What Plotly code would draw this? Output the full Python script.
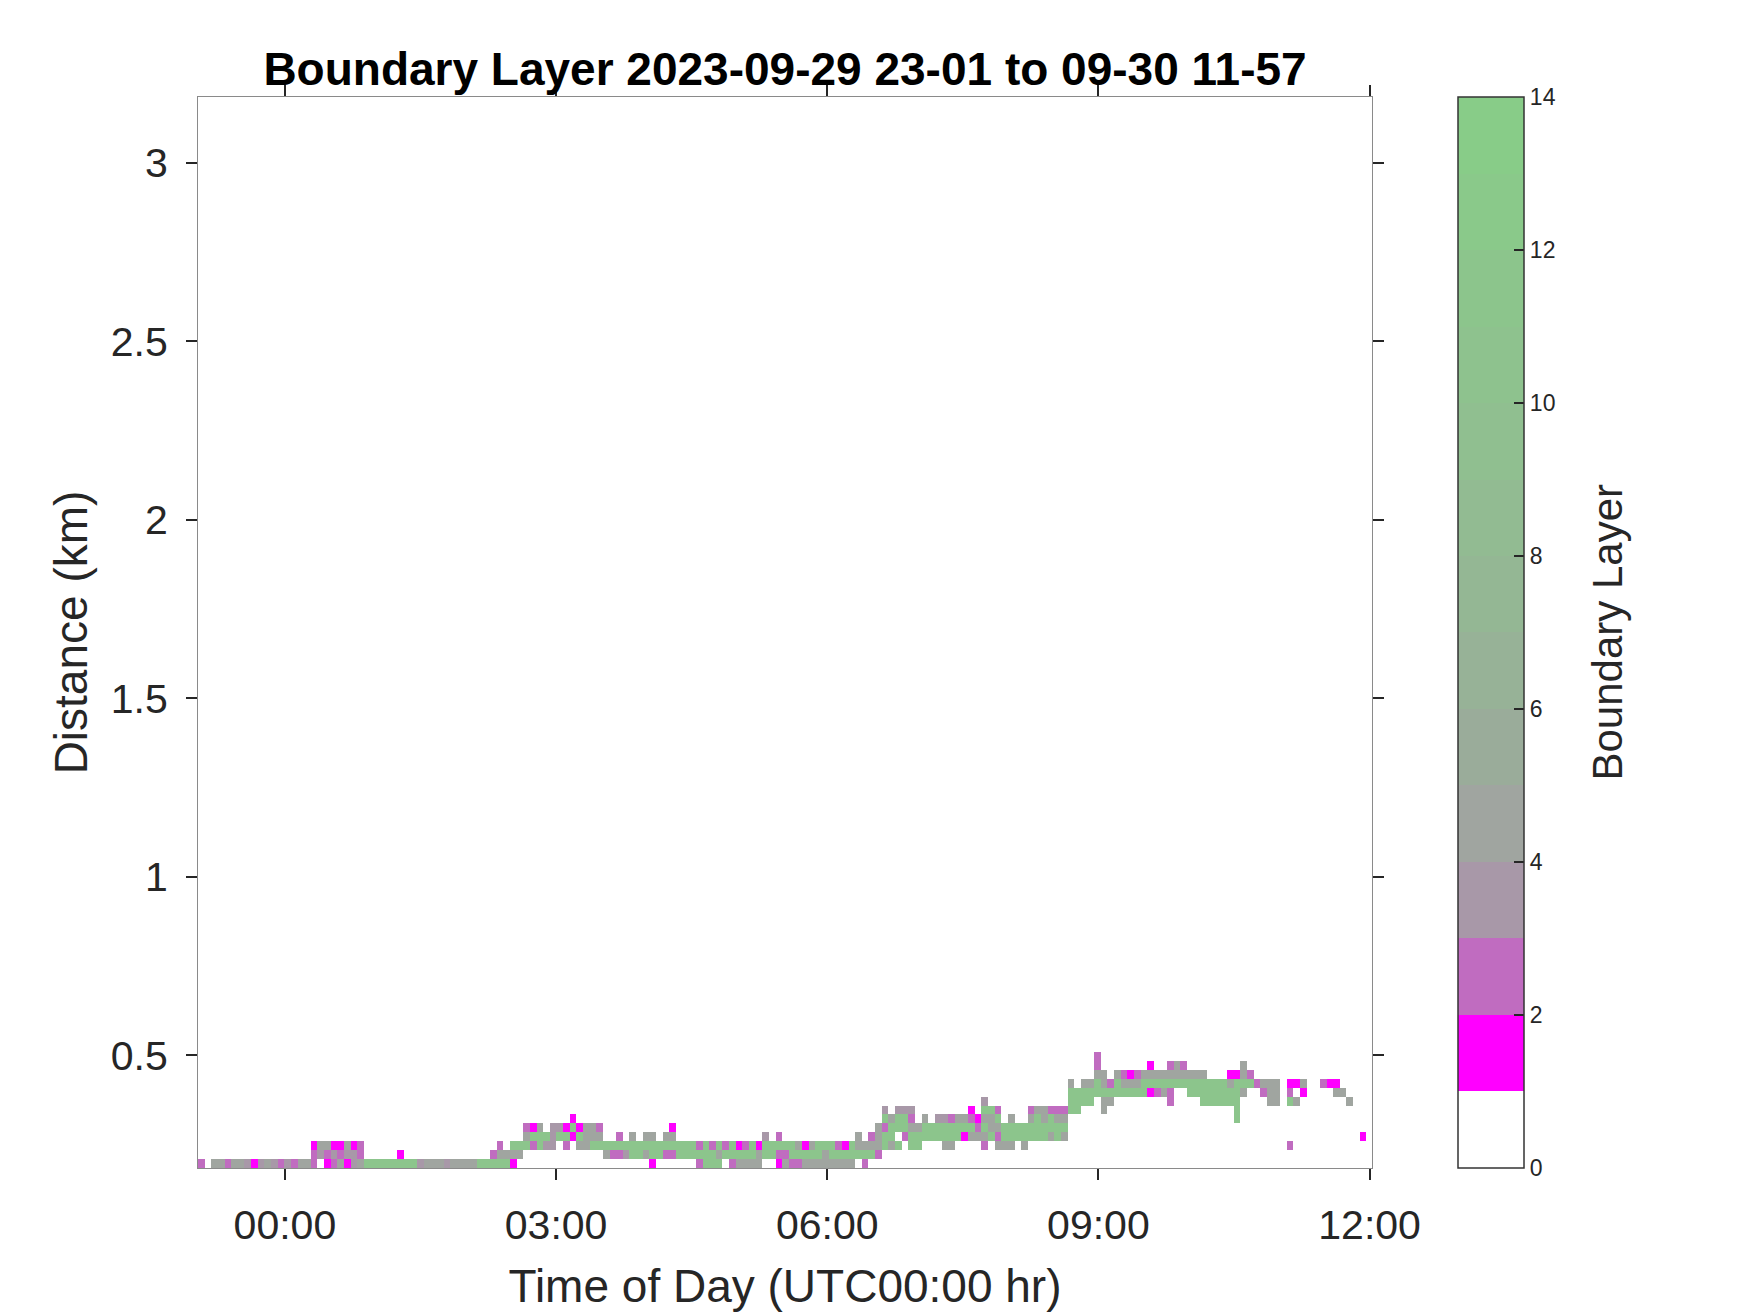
import numpy as np
import plotly.graph_objects as go
from datetime import datetime, timedelta

# ---- data ----
# value assigned to each colour class seen in the image
CLASS_VALUE = {"m": 1.5, "o": 2.5, "p": 3.5, "g": 4.5, "G": 11.5}

# one string per time column, range gates listed from the lowest upward ('.' = no value)
columns = [
    "o", "", "g", "g", "o", "g", "g", "p", "m", "p",                      # 0-9
    "g", "p", "o", "p", "o", "g", "g", "oom", ".pg", "mog",              # 10-19
    "opm", "gom", "mpg", "ppm", "goo", "G", "G", "G", "G", "G",          # 20-29
    "Gm", "G", "G", "p", "g", "g", "g", "p", "g", "g",                   # 30-39
    "g", "g", "G", "G", "Go", "Ggo", "Gg", "mgG", ".gG", "..Ggo",        # 40-49
    "..oGm", "..GGg", "..pG", "..ppp", "...Gp", "..oGm", "...mGm", "..gGm", "..ggg", "..Ggg",  # 50-59
    "..Ggo", ".gG", ".oG", ".oGo", ".pG", ".GGg", ".GG", ".gGg", "mGGg", ".GG",               # 60-69
    ".oGg", ".oGgm", ".GG", ".GG", ".GG", "oGo", "GGG", "GGo", "GgG", ".Go",                  # 70-79
    "oGG", "gGm", "gGo", "gGG", "ggm", ".GGp", ".GG", "moGo", "goG", "oGG",                   # 80-89
    "oGg", "gGm", "gGg", "gGG", "ggG", "gGG", "gGo", "gGm", "gGG", ".Ggg",                    # 90-99
    "oGg", ".Ggo", ".oggg", "..GGoGp", "..gGGg", "..G.GGp", "...oGGp", "..GGgop", "..GGg", "...GGg",  # 100-109
    "...GG", "...GGp", "..gGGp", "..gGGo", "...GGg", "...mGg", "...gGom", "...gom", "..ogGgGp", "...GggG",  # 110-119
    "..gogGo", "..gGG", "..gGGg", "...GG", "..gGG", "...GGgo", "...GGGg", "...GGgg", "...gGGo", "...GGgo",  # 120-129
    "...gGgo", "......GGGg", "......GGG", ".......GGg", ".......GGg",                         # 130-134
    "........GGgoo", "......ggGgg", ".......gGo", "........GGg", "........Ggo",                 # 135-139
    "........Ggm", "........Ggo", "........GGg", "........mGgm", "........oGg",                 # 140-144
    "........gGg", ".......ooGgo", ".........Ggg", ".........Ggo", "........GGg",               # 145-149
    "........GGg", ".......GGGg", ".......GGG", ".......GGG", ".......GGG",                    # 150-154
    ".......GGgm", ".....GGGGGm", "........gGgg", ".........Go", ".........o",                 # 155-159
    "........og", ".......ggg", ".......ggg", "", "..o....Gom",                                # 160-164
    ".......g.m", "........mg", "", "", ".........o",                                          # 165-169
    ".........m", "........gm", "........g", ".......g", "",                                   # 170-174
    "...m", "",                                                                                # 175-176
]

time_start = datetime(2023, 9, 29, 23, 2, 18)   # left edge of first column
time_step_min = 4.407                           # column width in minutes
gate_base_km = 0.184                            # bottom of lowest gate
gate_km = 0.025                                 # gate size
n_gates = 13

x_ticks = [datetime(2023, 9, 30, h) for h in (0, 3, 6, 9, 12)]
y_ticks = [0.5, 1, 1.5, 2, 2.5, 3]
y_ticktext = ["0.5", "1", "1.5", "2", "2.5", "3"]
cbar_ticks = [0, 2, 4, 6, 8, 10, 12, 14]

band_colors = ["#ffffff", "#ff00ff", "#c06cc0", "#a898a8", "#a0a5a0", "#9aac9a", "#97b297",
               "#94b794", "#92bb92", "#90bf90", "#8ec28e", "#8cc58c", "#8ac98a", "#88cc88"]

# ---- build matrix ----
ncol = len(columns)
z = np.full((n_gates, ncol), np.nan)
for i, col in enumerate(columns):
    for r, ch in enumerate(col):
        if ch in CLASS_VALUE:
            z[r, i] = CLASS_VALUE[ch]

x = [time_start + timedelta(minutes=time_step_min * (i + 0.5)) for i in range(ncol)]
y = [gate_base_km + gate_km * (r + 0.5) for r in range(n_gates)]

colorscale = []
nb = len(band_colors)
for k, c in enumerate(band_colors):
    colorscale.append([k / nb, c])
    colorscale.append([(k + 1) / nb, c])

FONT = "Liberation Sans, Arial, Helvetica, sans-serif"
INK = "#262626"

# page has an 8px body margin, so the figure is drawn 8px smaller and offset
W, H = 1742, 1305
PLOT_L, PLOT_R, PLOT_T, PLOT_B = 190, 1364, 89, 1160
plot_w = PLOT_R - PLOT_L
plot_h = PLOT_B - PLOT_T

fig = go.Figure(go.Heatmap(
    x=x, y=y, z=z, zmin=0, zmax=14, colorscale=colorscale,
    hoverongaps=False,
    colorbar=dict(
        x=(1450 - PLOT_L) / plot_w, xanchor="left",
        y=0, yanchor="bottom", lenmode="fraction", len=1,
        thicknessmode="pixels", thickness=66,
        xpad=0, ypad=0, outlinewidth=1.5, outlinecolor="#333333",
        tickmode="array", tickvals=cbar_ticks, tickprefix="\u200b\u2004\u200a",
        ticks="inside", ticklen=10, tickwidth=1.5, tickcolor=INK,
        tickfont=dict(family=FONT, size=23, color=INK),
    ),
))

axis_common = dict(
    showline=True, linecolor="#8a8a8a", linewidth=1.2, mirror="ticks",
    ticks="outside", ticklen=11, tickwidth=1.5, tickcolor=INK,
    showgrid=False, zeroline=False, automargin=False,
    tickfont=dict(family=FONT, size=41, color=INK),
)

fig.update_layout(
    width=W, height=H,
    margin=dict(l=PLOT_L, r=W - PLOT_R, t=PLOT_T, b=H - PLOT_B, autoexpand=False),
    paper_bgcolor="white", plot_bgcolor="white",
    title=dict(text="<b>Boundary Layer 2023-09-29 23-01 to 09-30 11-57</b>",
               x=(PLOT_L + PLOT_R) / 2 / W, xanchor="center", y=1 - 61 / H, yanchor="middle",
               font=dict(family=FONT, size=46, color="black")),
    xaxis=dict(type="date",
               range=[time_start, datetime(2023, 9, 30, 12, 1, 36)],
               tickmode="array", tickvals=x_ticks, tickformat="%H:%M",
               ticklabelstandoff=10,
               title=dict(text="Time of Day (UTC00:00 hr)", standoff=22,
                          font=dict(family=FONT, size=46, color=INK)),
               **axis_common),
    yaxis=dict(range=[0.184, 3.185], tickmode="array", tickvals=y_ticks, ticktext=y_ticktext,
               ticklabelstandoff=10,
               title=dict(text="Distance (km)", standoff=8,
                          font=dict(family=FONT, size=46, color=INK)),
               **axis_common),
    annotations=[dict(text="Boundary Layer", textangle=-90, showarrow=False,
                      xref="paper", yref="paper", x=(1599 - PLOT_L) / plot_w, y=0.5,
                      xanchor="center", yanchor="middle",
                      font=dict(family=FONT, size=42, color=INK))],
)

fig.write_html("out.html")
